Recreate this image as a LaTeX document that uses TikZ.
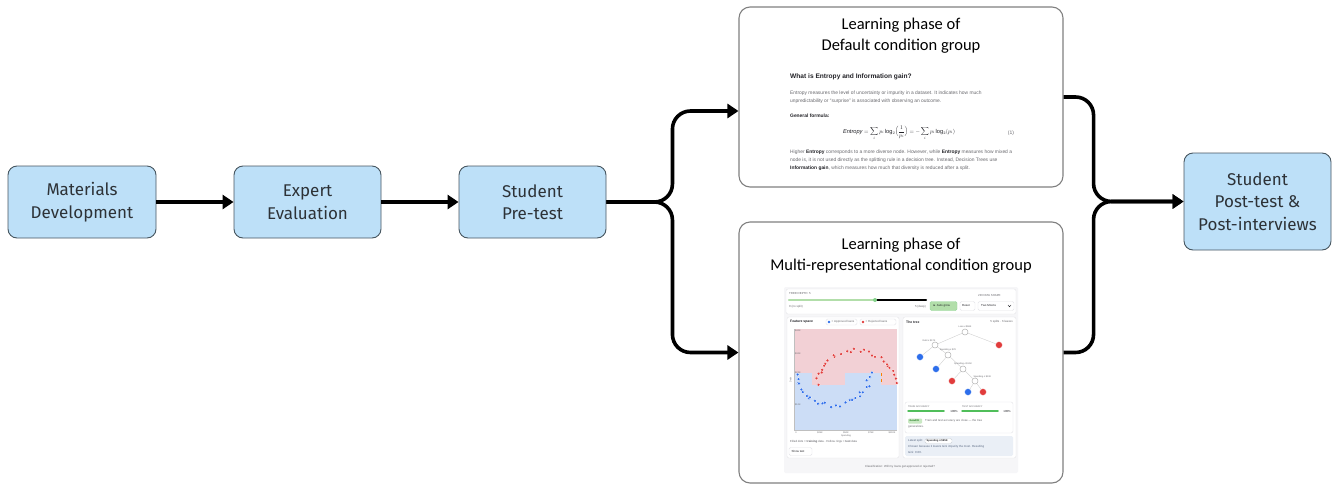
\documentclass[tikz,border=0pt]{standalone}
\usepackage{fontspec}
\usepackage{graphicx}
\setmainfont{Liberation Sans}
\newfontfamily\boxfont{Fira Sans}
\newfontfamily\titlefont{Carlito}
\newfontfamily\uifont{Liberation Sans}
\usetikzlibrary{arrows.meta,calc,positioning}

\definecolor{boxblue}{RGB}{189,224,248}
\definecolor{boxedge}{RGB}{70,85,95}
\definecolor{boxtxt}{RGB}{45,50,55}
\definecolor{paneledge}{RGB}{128,128,128}
\definecolor{txtgray}{RGB}{105,105,110}
\definecolor{txtdark}{RGB}{35,35,40}
\definecolor{uired}{RGB}{225,60,60}
\definecolor{uiblue}{RGB}{45,110,235}
\definecolor{regred}{RGB}{242,208,213}
\definecolor{regblue}{RGB}{204,221,246}
\definecolor{uigreen}{RGB}{80,190,90}
\definecolor{lightgreen}{RGB}{178,222,170}
\definecolor{uibg}{RGB}{246,246,248}
\definecolor{cardedge}{RGB}{228,228,232}
\definecolor{splitbg}{RGB}{234,239,246}
\definecolor{splittxt}{RGB}{90,105,130}

\tikzset{
  flowbox/.style={draw=boxedge, fill=boxblue, line width=0.9pt, rounded corners=9pt,
    align=center, font=\boxfont\fontsize{17}{22.5}\selectfont, text=boxtxt, inner sep=0pt},
  panel/.style={draw=paneledge, fill=white, line width=1.1pt, rounded corners=11pt,
    minimum width=324pt, inner sep=0pt},
  paneltitle/.style={align=center, font=\titlefont\fontsize{16.5}{21}\selectfont, text=black, inner sep=0pt},
  conn/.style={line width=3.6pt, rounded corners=18pt,
    -{Triangle[length=11pt,width=14pt]}},
  doc/.style={anchor=west, inner sep=0pt, text=txtgray, font=\uifont\fontsize{4.9}{6}\selectfont},
  dochead/.style={anchor=west, inner sep=0pt, text=txtdark, font=\uifont\bfseries\fontsize{6.6}{8}\selectfont},
  ui/.style={anchor=west, inner sep=0pt, text=txtgray, font=\uifont\fontsize{2.9}{3.5}\selectfont},
  uib/.style={anchor=west, inner sep=0pt, text=txtdark, font=\uifont\bfseries\fontsize{3.4}{4}\selectfont},
  card/.style={draw=cardedge, fill=white, line width=0.4pt, rounded corners=2pt},
  btn/.style={draw=cardedge, fill=white, line width=0.4pt, rounded corners=1.5pt},
  split/.style={circle, draw=gray!60, fill=white, line width=0.5pt, minimum size=6pt, inner sep=0pt},
  leafr/.style={circle, fill=uired, draw=white, line width=0.4pt, minimum size=7pt, inner sep=0pt},
  leafb/.style={circle, fill=uiblue, draw=white, line width=0.4pt, minimum size=7pt, inner sep=0pt},
  splitlbl/.style={inner sep=0pt, text=txtgray, font=\uifont\fontsize{2.3}{2.8}\selectfont},
}

\begin{document}
\begin{tikzpicture}[x=1pt,y=-1pt]
\useasboundingbox (0,0) rectangle (1333,485);

% ---- process boxes ----
\node[flowbox, minimum width=148pt, minimum height=72pt] (mat) at (82,202) {Materials\\Development};
\node[flowbox, minimum width=147pt, minimum height=72pt] (exp) at (307.5,202) {Expert\\Evaluation};
\node[flowbox, minimum width=147pt, minimum height=72pt] (pre) at (532.5,202) {Student\\Pre-test};
\node[flowbox, minimum width=147pt, minimum height=97pt] (post) at (1257.5,201.5) {Student\\Post-test \&\\Post-interviews};

% ---- learning phase panels ----
\node[panel, minimum height=180pt] (top) at (901,97) {};
\node[panel, minimum height=261pt] (bot) at (901,352.5) {};
\node[paneltitle] (toptitle) at (901,36) {Learning phase of\\Default condition group};
\node[paneltitle] (bottitle) at (901,256) {Learning phase of\\Multi-representational condition group};

% ---- connectors ----
\draw[conn] (mat) -- (exp);
\draw[conn] (exp) -- (pre);
\draw[conn] (pre.east) -- ++(66,0) |- ([yshift=-14pt]top.west);
\draw[conn] (pre.east) -- ++(66,0) |- (bot.west);
\draw[conn] (top.east) -- ++(30,0) |- (post.west);
\draw[conn] (bot.east) -- ++(30,0) |- (post.west);

% ---- default condition: text page on entropy ----
\node[dochead] (h1) at (790,77) {What is Entropy and Information gain?};
\node[doc] (p1) at (790,93) {Entropy measures the level of uncertainty or impurity in a dataset. It indicates how much};
\node[doc] (p2) at (790,101) {unpredictability or “surprise” is associated with observing an outcome.};
\node[doc, text=txtdark, font=\uifont\bfseries\fontsize{4.9}{6}\selectfont] (gf) at (790,116) {General formula:};
\node[inner sep=0pt, text=txtdark] (eq) at (899,133)
  {\resizebox{112pt}{!}{$\displaystyle \mathit{Entropy}=\sum_i p_i\log_2\!\Big(\frac{1}{p_i}\Big)=-\sum_i p_i\log_2(p_i)$}};
\node[inner sep=0pt, text=txtgray, font=\fontsize{5}{6}\selectfont] (eqn) at (1011,133) {(1)};
\node[doc] (q1) at (790,152) {Higher \textbf{\color{txtdark}Entropy} corresponds to a more diverse node. However, while \textbf{\color{txtdark}Entropy} measures how mixed a};
\node[doc] (q2) at (790,160) {node is, it is not used directly as the splitting rule in a decision tree. Instead, Decision Trees use};
\node[doc] (q3) at (790,168) {\textbf{\color{txtdark}Information gain}, which measures how much that diversity is reduced after a split.};

% ---- multi-representational condition: interactive tree explorer ----
\fill[uibg, rounded corners=2pt] (784,287) rectangle (1018,473);
% control bar
\draw[card] (786,289) rectangle (1016,314);
\node[ui] (depth) at (789,294) {TREE DEPTH: 5};
\draw[lightgreen, line width=2.2pt, line cap=round] (789,300) -- (875,300);
\draw[black, line width=2.2pt, line cap=round] (875,300) -- (926,300);
\fill[uigreen!70] (875,300) circle (2);
\node[ui] (d0) at (789,307) {0 (no split)};
\node[ui, anchor=east] (d5) at (926,307) {5 (deep)};
\draw[btn, fill=lightgreen, draw=uigreen!60] (930,301.5) rectangle (957,310.5);
\node[ui, text=txtdark] (auto) at (933,306) {► Auto grow};
\draw[btn] (960,301.5) rectangle (975,310.5);
\node[ui, text=txtdark] (reset) at (962,306) {Reset};
\node[ui] (shape) at (978,295) {2D DATA SHAPE};
\draw[btn] (978,301.5) rectangle (1014,310.5);
\node[ui, text=txtdark] (moons) at (981,306) {Two Moons};
\draw[txtdark, line width=0.4pt] (1008,305) -- (1009.5,306.8) -- (1011,305);

% feature space card
\draw[card] (787,317) rectangle (899,458);
\node[uib] (fs) at (790,322) {Feature space};
\draw[btn] (826,319) rectangle (857,325);
\fill[uiblue] (829,322) circle (1.3);
\node[ui] (appr) at (831.5,322) {= Approved loans};
\draw[btn] (860,319) rectangle (896,325);
\fill[uired] (863,322) circle (1.3);
\node[ui] (rej) at (865.5,322) {= Rejected loans};
% decision regions
\fill[regred] (794,329) rectangle (897,385);
\fill[regblue] (794,385) rectangle (897,430);
\fill[regblue] (794,373) rectangle (812,385);
\fill[regblue] (845,373) rectangle (881,385);
\draw[orange, line width=0.5pt, dashed] (881,373) -- (881,385);
\draw[gray!50, line width=0.3pt] (794,329) -- (794,430) -- (897,430);
\foreach \yy/\lab in {331/{\$40K}, 354/{\$30K}, 373/{\$20K}, 405/{\$10K}}
  \node[splitlbl, anchor=west] at (795,\yy) {\lab};
\foreach \xx/\lab in {796/0, 820/{\$25K}, 846/{\$50K}, 871/{\$75K}, 892/{\$100K}}
  \node[splitlbl] at (\xx,432.5) {\lab};
\node[splitlbl, rotate=90] (ylab) at (790.5,380) {Debt};
\node[splitlbl] (xlab) at (846,436) {Spending};
% two moons data
\pgfmathsetseed{11}
\foreach \k in {0,...,27}{
  \pgfmathsetmacro\px{856+39*cos(180*\k/27)+2.5*rand}
  \pgfmathsetmacro\py{383-32*sin(180*\k/27)+2.5*rand}
  \fill[uired, draw=white, line width=0.25pt] (\px,\py) circle (1.7);
}
\foreach \k in {0,...,27}{
  \pgfmathsetmacro\px{833-37*cos(180*\k/27)+2.5*rand}
  \pgfmathsetmacro\py{375+30*sin(180*\k/27)+2.5*rand}
  \fill[uiblue, draw=white, line width=0.25pt] (\px,\py) circle (1.7);
}
\node[ui] (legend2) at (790,442) {Filled dots = \textbf{training} data \textperiodcentered{} Hollow rings = \textbf{test} data};
\draw[btn] (789,447.5) rectangle (812,455.5);
\node[ui, text=txtdark] (show) at (791.5,451.5) {Show test};

% tree card
\draw[card] (903,317) rectangle (1016,458);
\node[uib] (tt) at (906,322) {The tree};
\node[ui, anchor=east] (cnt) at (1013,322) {5 splits \textperiodcentered{} 6 leaves};
\node[split] (root) at (965,332) {};
\node[split] (n1) at (935,345) {};
\node[leafr] (l1) at (999,345) {};
\node[leafb] (l2) at (920,357) {};
\node[split] (n2) at (948,355) {};
\node[leafb] (l3) at (936,369) {};
\node[split] (n3) at (963,369) {};
\node[leafr] (l4) at (952,381) {};
\node[split] (n4) at (975,381) {};
\node[leafb] (l5) at (968,392) {};
\node[leafr] (l6) at (983,392) {};
\foreach \u/\v in {root/n1, root/l1, n1/l2, n1/n2, n2/l3, n2/n3, n3/l4, n3/n4, n4/l5, n4/l6}
  \draw[gray!40, line width=0.35pt] (\u) -- (\v);
\node[splitlbl, above=1pt of root] (rl) {Loan ≤ \$58K};
\node[splitlbl, above left=0.5pt and -3pt of n1] (n1l) {Debt ≤ \$17K};
\node[splitlbl, above=1pt of n2] (n2l) {Spending ≤ \$7K};
\node[splitlbl, above=1pt of n3] (n3l) {Spending ≤ \$10K};
\node[splitlbl, above right=0.5pt and -4pt of n4] (n4l) {Spending ≤ \$13K};
% accuracy card
\draw[card] (905,402) rectangle (1013,433);
\node[ui, font=\uifont\fontsize{2.4}{3}\selectfont] (tra) at (908,406.5) {TRAIN ACCURACY};
\draw[uigreen, line width=1.5pt, line cap=round] (908,411) -- (944,411);
\node[ui, anchor=east, text=txtdark] (trv) at (958,411) {100\%};
\node[ui, font=\uifont\fontsize{2.4}{3}\selectfont] (tea) at (962,406.5) {TEST ACCURACY};
\draw[uigreen, line width=1.5pt, line cap=round] (962,411) -- (998,411);
\node[ui, anchor=east, text=txtdark] (tev) at (1011,411) {100\%};
\draw[fill=lightgreen!70, draw=none, rounded corners=1pt] (908,418.5) rectangle (922,423.5);
\node[ui, text=green!40!black, font=\uifont\bfseries\fontsize{2.4}{3}\selectfont] (fit) at (909.5,421) {Good fit};
\node[ui] (fitt) at (925,421) {Train and test accuracy are close — the tree};
\node[ui] (fitt2) at (908,426.5) {generalizes.};
% latest split
\fill[splitbg, rounded corners=1.5pt] (905,436) rectangle (1013,456);
\node[ui, text=splittxt] (ls) at (908,441) {Latest split:};
\draw[btn, draw=splittxt!30] (925,438.5) rectangle (952,443.5);
\node[ui, text=txtdark, font=\uifont\bfseries\fontsize{2.6}{3}\selectfont] (lsv) at (926.5,441) {Spending ≤ \$95K};
\node[ui, text=splittxt] (ls2) at (908,447) {Chosen because it lowers Gini impurity the most. Resulting};
\node[ui, text=splittxt] (ls3) at (908,452) {Gini: 0.00.};
% caption
\node[ui, anchor=center] (cap) at (900,467) {Classification: Will my loans get approved or rejected?};
\end{tikzpicture}
\end{document}
